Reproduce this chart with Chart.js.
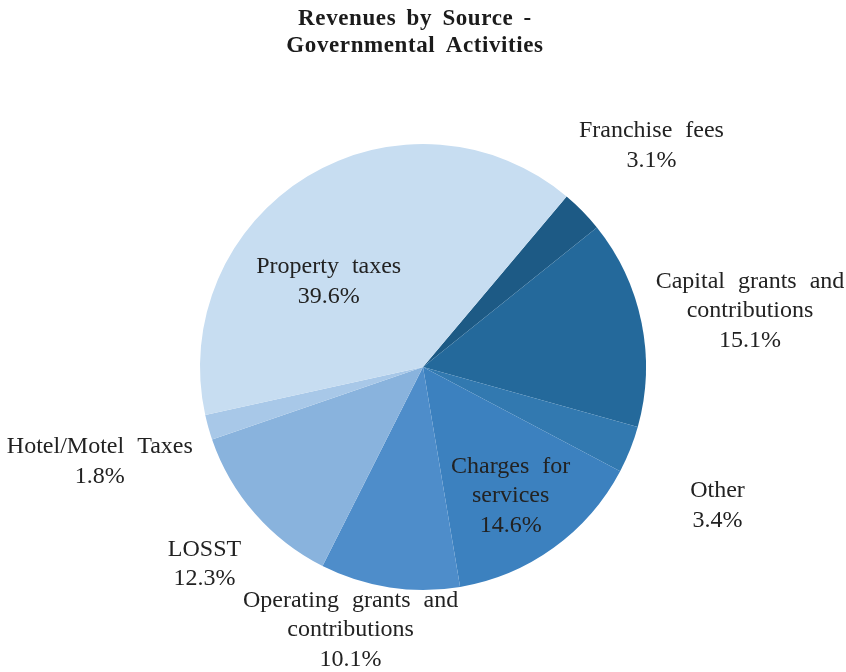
<!DOCTYPE html>
<html>
<head>
<meta charset="utf-8">
<script src="https://cdn.jsdelivr.net/npm/chart.js@4/dist/chart.umd.min.js"></script>
<style>
  html, body { margin: 0; padding: 0; background: #fff; }
  #wrap { width: 846px; height: 672px; }
</style>
</head>
<body>
<div id="wrap"><canvas id="revChart" width="846" height="672"></canvas></div>
<script>
'use strict';

// revenue shares, clockwise from the Franchise fees slice
var sources = ['Franchise fees', 'Capital grants and contributions', 'Other',
               'Charges for services', 'Operating grants and contributions',
               'LOSST', 'Hotel/Motel Taxes', 'Property taxes'];
var shares = [3.1, 15.1, 3.4, 14.6, 10.1, 12.3, 1.8, 39.6];
// how each label is broken into lines
var labelLines = [
  ['Franchise fees'],
  ['Capital grants and', 'contributions'],
  ['Other'],
  ['Charges for', 'services'],
  ['Operating grants and', 'contributions'],
  ['LOSST'],
  ['Hotel/Motel Taxes'],
  ['Property taxes']
];
var titleLines = ['Revenues by Source -', 'Governmental Activities'];

var sliceColors = ['#1d5a85', '#24699b', '#3279b0', '#3c81bf', '#4e8dca',
                   '#89b3dd', '#a8c8e8', '#c7ddf1'];
// label placement: distance from centre (x radius) and angle nudge (degrees)
var labelRadius = [1.427, 1.488, 1.46, 0.70, 1.223, 1.32, 1.51, 0.57];
var labelNudge = [0.2, 1.8, 3.5, 1.7, 6.8, -1, -0.6, -16.7];

var serif = '"Liberation Serif", "Times New Roman", serif';

// draws the title and the slice labels straight on the canvas
var sliceLabels = {
  id: 'sliceLabels',
  afterDraw: function (chart) {
    var ctx = chart.ctx;
    var meta = chart.getDatasetMeta(0);
    ctx.save();
    ctx.textAlign = 'center';
    ctx.textBaseline = 'middle';

    ctx.fillStyle = '#1b1b1b';
    ctx.font = 'bold 23px ' + serif;
    ctx.letterSpacing = '0.6px';
    ctx.wordSpacing = '4px';
    titleLines.forEach(function (t, i) {
      ctx.fillText(t, chart.width / 2 - 8, 19 + i * 27);
    });

    ctx.font = '24px ' + serif;
    ctx.letterSpacing = '0px';
    ctx.wordSpacing = '7px';
    ctx.fillStyle = '#222';
    meta.data.forEach(function (arc, i) {
      var mid = (arc.startAngle + arc.endAngle) / 2 + labelNudge[i] * Math.PI / 180;
      var r = arc.outerRadius * labelRadius[i];
      var x = arc.x + Math.cos(mid) * r;
      var y = arc.y + Math.sin(mid) * r;
      var lines = labelLines[i].concat([shares[i].toFixed(1) + '%']);
      var lh = 29.5;
      var top = y - (lines.length - 1) * lh / 2;
      lines.forEach(function (l, j) {
        ctx.fillText(l, x, top + j * lh);
      });
    });
    ctx.restore();
  }
};

new Chart(document.getElementById('revChart'), {
  type: 'pie',
  data: {
    labels: sources,
    datasets: [{
      data: shares,
      backgroundColor: sliceColors,
      borderWidth: 0
    }]
  },
  options: {
    responsive: false,
    animation: false,
    rotation: 40.1,
    layout: { padding: { top: 144, bottom: 82, left: 0, right: 0 } },
    plugins: {
      legend: { display: false },
      tooltip: { enabled: false },
      title: { display: false }
    }
  },
  plugins: [sliceLabels]
});
</script>
</body>
</html>
